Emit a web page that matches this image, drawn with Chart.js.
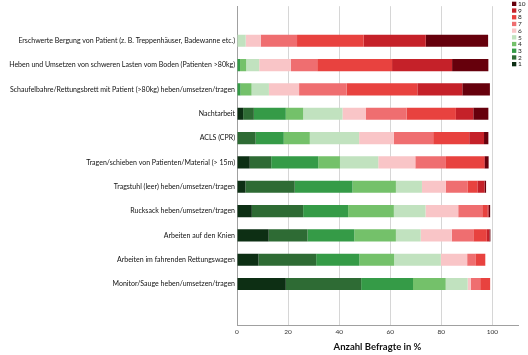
<!DOCTYPE html>
<html><head><meta charset="utf-8">
<script src="https://cdn.jsdelivr.net/npm/chart.js@4/dist/chart.umd.min.js"></script>
<style>html,body{margin:0;padding:0;background:#fff;overflow:hidden}canvas{display:block}</style>
</head><body>
<canvas id="c" width="528" height="355"></canvas>
<script>
const categories = [
  "Erschwerte Bergung von Patient (z. B. Treppenhäuser, Badewanne etc.)",
  "Heben und Umsetzen von schweren Lasten vom Boden (Patienten >80kg)",
  "Schaufelbahre/Rettungsbrett mit Patient (>80kg) heben/umsetzen/tragen",
  "Nachtarbeit",
  "ACLS (CPR)",
  "Tragen/schieben von Patienten/Material (> 15m)",
  "Tragstuhl (leer) heben/umsetzen/tragen",
  "Rucksack heben/umsetzen/tragen",
  "Arbeiten auf den Knien",
  "Arbeiten im fahrenden Rettungswagen",
  "Monitor/Sauge heben/umsetzen/tragen"
];
const seriesLabels = ["1","2","3","4","5","6","7","8","9","10"];
const s1  = [0, 0, 0, 2.4, 0, 5.0, 3.3, 5.8, 12.4, 8.4, 19.1];
const s2  = [0, 0, 0, 4.2, 7.3, 8.4, 19.3, 20.1, 15.2, 22.6, 29.5];
const s3  = [0, 1.2, 1.4, 12.5, 11.0, 18.4, 22.6, 17.6, 18.3, 16.9, 20.3];
const s4  = [0, 2.4, 4.3, 6.8, 10.2, 8.5, 17.0, 17.9, 16.3, 13.6, 12.8];
const s5  = [3.4, 5.1, 6.8, 15.4, 19.3, 15.0, 10.2, 12.4, 9.7, 18.3, 8.6];
const s6  = [5.9, 12.4, 11.8, 9.2, 13.6, 14.5, 9.3, 12.8, 12.2, 10.3, 1.2];
const s7  = [14.2, 10.3, 18.6, 15.9, 15.4, 12.0, 8.5, 9.4, 8.4, 3.2, 3.7];
const s8  = [26.1, 29.3, 27.7, 19.3, 14.1, 14.9, 3.9, 2.0, 5.3, 3.9, 3.9];
const s9  = [24.3, 23.5, 17.6, 6.8, 5.8, 0.3, 2.8, 0.5, 1.0, 0, 0];
const s10 = [24.4, 14.2, 10.8, 5.9, 1.7, 1.5, 0.6, 0.6, 0.4, 0, 0];
const xTicks = [0, 20, 40, 60, 80, 100];
const axisTitle = "Anzahl Befragte in %";

const allSeries = [s1,s2,s3,s4,s5,s6,s7,s8,s9,s10];
const colors = ["#0d2f14","#2e6b34","#359b47","#74c16a","#c1e2bf","#f9c5c7","#ef6e70","#e8423f","#c52129","#66000c"];

const datasets = allSeries.map((s, k) => ({
  label: seriesLabels[k],
  data: s.map((v, i) => ({x: v, y: i})),
  backgroundColor: colors[k],
  borderWidth: 0,
  barPercentage: 0.5,
  categoryPercentage: 1.0
}));

const legendPlugin = {
  id: 'customLegend',
  afterDraw(chart) {
    const ctx = chart.ctx;
    ctx.save();
    ctx.font = '6.5px Lato';
    ctx.textBaseline = 'middle';
    ctx.textAlign = 'left';
    const ds = chart.data.datasets;
    for (let k = 0; k < ds.length; k++) {
      const d = ds[ds.length - 1 - k];
      const y = 1.7 + k * 6.7;
      ctx.fillStyle = d.backgroundColor;
      ctx.fillRect(512, y, 4.3, 4.3);
      ctx.fillStyle = '#222';
      ctx.fillText(d.label, 518, y + 2.3);
    }
    ctx.restore();
  }
};

new Chart(document.getElementById('c'), {
  type: 'bar',
  data: { datasets },
  options: {
    indexAxis: 'y',
    responsive: false,
    animation: false,
    devicePixelRatio: 1,
    layout: { padding: { left: 0, right: 10, top: 0, bottom: 0 } },
    plugins: { legend: { display: false }, tooltip: { enabled: false } },
    scales: {
      x: {
        type: 'linear',
        stacked: true,
        min: 0, max: 110,
        afterBuildTicks: (scale) => { scale.ticks = xTicks.map(v => ({value: v})); },
        afterFit: (scale) => { scale.height = 30; },
        grid: { color: '#d6d6d6', drawTicks: false, lineWidth: 1 },
        border: { color: '#a0a0a0' },
        ticks: { font: { family: 'Lato', size: 6.5 }, color: '#333', padding: 3 },
        title: { display: true, text: axisTitle, font: { family: 'Lato', size: 9.5, weight: 'bold' }, color: '#111', padding: { top: 0, bottom: 2 } }
      },
      y: {
        type: 'linear',
        stacked: true,
        reverse: true,
        min: -0.825, max: 11.088,
        afterBuildTicks: (scale) => { scale.ticks = categories.map((c, i) => ({value: i})); },
        afterFit: (scale) => { scale.width = 237; },
        grid: { display: false, drawTicks: false },
        border: { display: true, color: '#a0a0a0' },
        ticks: { font: { family: 'Lato', size: 7 }, color: '#111', padding: 2, autoSkip: false,
          callback: (v) => categories[v] }
      }
    }
  },
  plugins: [legendPlugin]
});
</script>
</body></html>
